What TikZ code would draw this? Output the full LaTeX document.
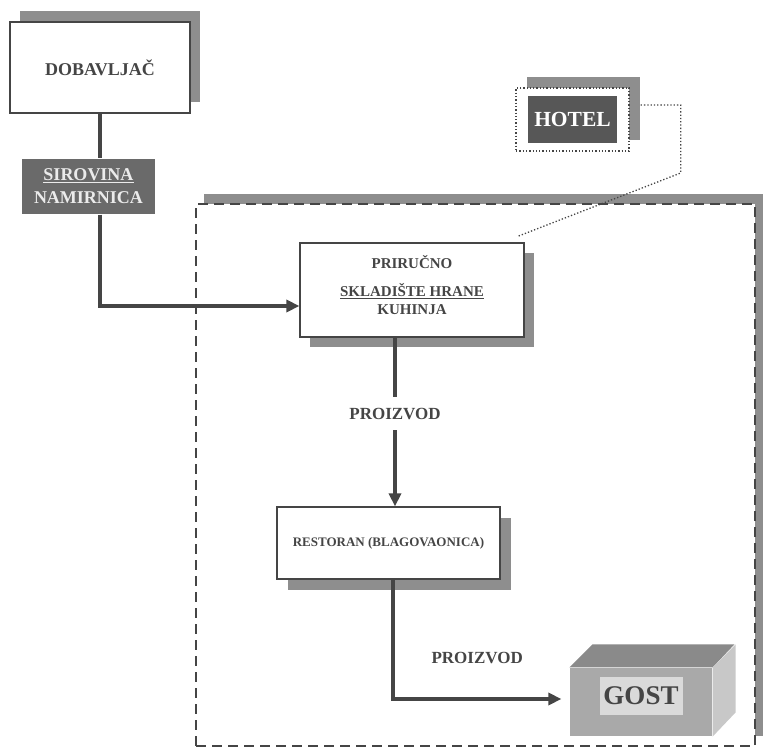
\documentclass[tikz,border=0pt]{standalone}
\usepackage{fontspec}
\setmainfont{Liberation Serif}
\usetikzlibrary{arrows.meta}
\usetikzlibrary{shadows}
\definecolor{InkGray}{HTML}{454545}
\definecolor{ShadowGray}{HTML}{8E8E8E}
\definecolor{DarkFill}{HTML}{6A6A6A}
\definecolor{HotelFill}{HTML}{575757}
\definecolor{GostFront}{HTML}{A9A9A9}
\definecolor{GostTop}{HTML}{8A8A8A}
\definecolor{GostSide}{HTML}{C8C8C8}
\definecolor{GostLabel}{HTML}{DADADA}

\begin{document}
\begin{tikzpicture}[x=1pt,y=-1pt,
  box/.style={draw=InkGray, line width=1.2pt, fill=white, inner sep=0pt,
    text=InkGray, font=\bfseries, align=center},
  shade/.style 2 args={general shadow={shadow xshift=#1, shadow yshift=#2, fill=ShadowGray}},
  zone/.style={draw=InkGray, line width=2.8pt, dash pattern=on 10pt off 6pt, fill=white},
  flow/.style={draw=InkGray, line width=3.6pt, -{Triangle[length=13pt,width=12pt]}},
  link/.style={draw=InkGray, line width=3.6pt},
  lbl/.style={text=InkGray, font=\fontsize{17}{20}\selectfont\bfseries},
  dotline/.style={draw=InkGray, line width=1.3pt, dotted}]

  \useasboundingbox (0,0) rectangle (764,755);

  % kitchen area
  \node[zone, shade={8pt}{10pt}, minimum width=559pt, minimum height=542pt] (zone) at (475.5,475) {};

  % boxes
  \node[box, shade={10pt}{11pt}, minimum width=180pt, minimum height=91pt,
    font=\fontsize{18}{22}\selectfont\bfseries] (dob) at (100,67.5) {DOBAVLJAČ};
  \node[box, draw=none, fill=DarkFill, text=white!92!black, minimum width=133pt, minimum height=55pt,
    font=\fontsize{18}{23}\selectfont\bfseries] (sir) at (88.5,186.5) {\underline{SIROVINA}\\NAMIRNICA};
  \node[box, shade={10pt}{-10pt}, minimum width=224pt, minimum height=94pt] (pri) at (412,290) {};
  \node[text=InkGray, align=center, font=\fontsize{15}{18}\selectfont\bfseries] (pritext) at (412,285)
    {PRIRUČNO\\[10pt]\underline{SKLADIŠTE HRANE}\\KUHINJA};
  \node[box, shade={11pt}{-11pt}, minimum width=223pt, minimum height=72pt,
    font=\fontsize{13}{16}\selectfont\bfseries] (res) at (388.5,543) {RESTORAN (BLAGOVAONICA)};

  % hotel
  \node[box, dotline, fill=white, shade={11pt}{11pt}, minimum width=113pt, minimum height=63pt] (hotel) at (572.5,119.5) {};
  \node[box, draw=none, fill=HotelFill, text=white, minimum width=89pt, minimum height=47pt,
    font=\fontsize{21.5}{24}\selectfont\bfseries] (hotellbl) at (hotel.center) {HOTEL};

  % guest block
  \node[box, draw=none, fill=GostFront, minimum width=142pt, minimum height=68pt] (gost) at (641,702) {};
  \fill[GostTop] (gost.north west) -- ++(23,-23) -- ++(142,0) -- (gost.north east) -- cycle;
  \fill[GostSide] (gost.north east) -- ++(23,-23) -- ++(0,68) -- (gost.south east) -- cycle;
  \node[box, draw=none, fill=GostLabel, minimum width=83pt, minimum height=38pt,
    font=\fontsize{27}{30}\selectfont\bfseries] (gostlbl) at (641,696) {GOST};

  % connectors
  \draw[link] (dob.south) -- (dob.south |- sir.north);
  \draw[flow] (dob.south |- sir.south) |- ([yshift=-16pt]pri.west);
  \draw[flow] ([xshift=-17pt]pri.south) -- node[lbl, fill=white, pos=0.45, inner ysep=11pt] {PROIZVOD}
    ([xshift=-17pt]pri.south |- res.north);
  \draw[flow] ([xshift=4.5pt]res.south) |- node[lbl, pos=0.75, above=30pt] {PROIZVOD}
    ([xshift=-8pt,yshift=3pt]gost.west);
  \draw[dotline] ([xshift=11pt,yshift=14.5pt]hotel.east) -- ++(40,0) -- ++(0,68)
    -- ([xshift=-7pt,yshift=6pt]pri.north east);

\end{tikzpicture}
\end{document}
